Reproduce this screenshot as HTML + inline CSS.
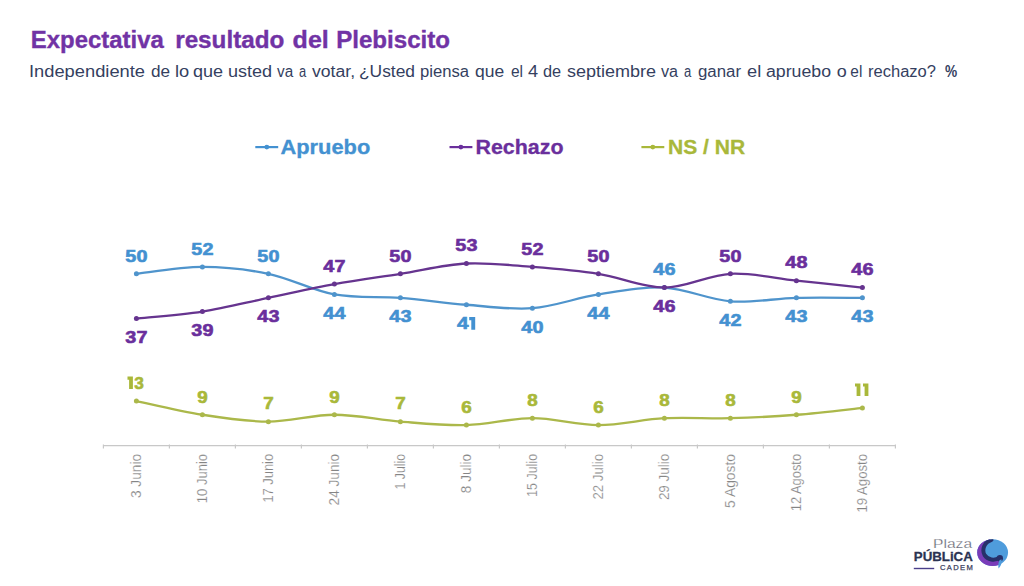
<!DOCTYPE html>
<html><head><meta charset="utf-8"><style>html,body{margin:0;padding:0;background:#fff;width:1024px;height:586px;overflow:hidden}</style></head>
<body>
<svg width="1024" height="586" viewBox="0 0 1024 586" style="display:block">
<rect width="1024" height="586" fill="#ffffff"/>
<text x="30.80" y="47.6" font-family='"Liberation Sans", sans-serif' font-weight="700" font-size="23" fill="#7133a5" stroke="#7133a5" stroke-width="0.35" textLength="133.01" lengthAdjust="spacingAndGlyphs">Expectativa</text>
<text x="175.20" y="47.6" font-family='"Liberation Sans", sans-serif' font-weight="700" font-size="23" fill="#7133a5" stroke="#7133a5" stroke-width="0.35" textLength="109.22" lengthAdjust="spacingAndGlyphs">resultado</text>
<text x="292.60" y="47.6" font-family='"Liberation Sans", sans-serif' font-weight="700" font-size="23" fill="#7133a5" stroke="#7133a5" stroke-width="0.35" textLength="36.16" lengthAdjust="spacingAndGlyphs">del</text>
<text x="336.20" y="47.6" font-family='"Liberation Sans", sans-serif' font-weight="700" font-size="23" fill="#7133a5" stroke="#7133a5" stroke-width="0.35" textLength="113.81" lengthAdjust="spacingAndGlyphs">Plebiscito</text>
<text x="29.00" y="76.9" font-family='"Liberation Sans", sans-serif' font-size="16" fill="#353f5f" textLength="116.04" lengthAdjust="spacingAndGlyphs">Independiente</text>
<text x="151.00" y="76.9" font-family='"Liberation Sans", sans-serif' font-size="16" fill="#353f5f" textLength="19.10" lengthAdjust="spacingAndGlyphs">de</text>
<text x="175.00" y="76.9" font-family='"Liberation Sans", sans-serif' font-size="16" fill="#353f5f" textLength="14.21" lengthAdjust="spacingAndGlyphs">lo</text>
<text x="193.00" y="76.9" font-family='"Liberation Sans", sans-serif' font-size="16" fill="#353f5f" textLength="30.07" lengthAdjust="spacingAndGlyphs">que</text>
<text x="228.00" y="76.9" font-family='"Liberation Sans", sans-serif' font-size="16" fill="#353f5f" textLength="44.13" lengthAdjust="spacingAndGlyphs">usted</text>
<text x="277.00" y="76.9" font-family='"Liberation Sans", sans-serif' font-size="16" fill="#353f5f" textLength="16.17" lengthAdjust="spacingAndGlyphs">va</text>
<text x="299.00" y="76.9" font-family='"Liberation Sans", sans-serif' font-size="16" fill="#353f5f" textLength="7.19" lengthAdjust="spacingAndGlyphs">a</text>
<text x="312.00" y="76.9" font-family='"Liberation Sans", sans-serif' font-size="16" fill="#353f5f" textLength="43.05" lengthAdjust="spacingAndGlyphs">votar,</text>
<text x="359.00" y="76.9" font-family='"Liberation Sans", sans-serif' font-size="16" fill="#353f5f" textLength="56.04" lengthAdjust="spacingAndGlyphs">¿Usted</text>
<text x="420.00" y="76.9" font-family='"Liberation Sans", sans-serif' font-size="16" fill="#353f5f" textLength="49.06" lengthAdjust="spacingAndGlyphs">piensa</text>
<text x="475.00" y="76.9" font-family='"Liberation Sans", sans-serif' font-size="16" fill="#353f5f" textLength="29.19" lengthAdjust="spacingAndGlyphs">que</text>
<text x="511.00" y="76.9" font-family='"Liberation Sans", sans-serif' font-size="16" fill="#353f5f" textLength="12.07" lengthAdjust="spacingAndGlyphs">el</text>
<text x="528.00" y="76.9" font-family='"Liberation Sans", sans-serif' font-size="16" fill="#353f5f" textLength="10.10" lengthAdjust="spacingAndGlyphs">4</text>
<text x="543.00" y="76.9" font-family='"Liberation Sans", sans-serif' font-size="16" fill="#353f5f" textLength="18.14" lengthAdjust="spacingAndGlyphs">de</text>
<text x="567.00" y="76.9" font-family='"Liberation Sans", sans-serif' font-size="16" fill="#353f5f" textLength="89.03" lengthAdjust="spacingAndGlyphs">septiembre</text>
<text x="661.00" y="76.9" font-family='"Liberation Sans", sans-serif' font-size="16" fill="#353f5f" textLength="17.07" lengthAdjust="spacingAndGlyphs">va</text>
<text x="684.00" y="76.9" font-family='"Liberation Sans", sans-serif' font-size="16" fill="#353f5f" textLength="7.28" lengthAdjust="spacingAndGlyphs">a</text>
<text x="698.00" y="76.9" font-family='"Liberation Sans", sans-serif' font-size="16" fill="#353f5f" textLength="43.02" lengthAdjust="spacingAndGlyphs">ganar</text>
<text x="747.00" y="76.9" font-family='"Liberation Sans", sans-serif' font-size="16" fill="#353f5f" textLength="14.18" lengthAdjust="spacingAndGlyphs">el</text>
<text x="766.00" y="76.9" font-family='"Liberation Sans", sans-serif' font-size="16" fill="#353f5f" textLength="65.01" lengthAdjust="spacingAndGlyphs">apruebo</text>
<text x="836.80" y="76.9" font-family='"Liberation Sans", sans-serif' font-size="16" fill="#353f5f" textLength="9.99" lengthAdjust="spacingAndGlyphs">o</text>
<text x="850.30" y="76.9" font-family='"Liberation Sans", sans-serif' font-size="16" fill="#353f5f" textLength="12.01" lengthAdjust="spacingAndGlyphs">el</text>
<text x="868.00" y="76.9" font-family='"Liberation Sans", sans-serif' font-size="16" fill="#353f5f" textLength="68.02" lengthAdjust="spacingAndGlyphs">rechazo?</text>
<text x="945.00" y="76.9" font-family='"Liberation Sans", sans-serif' font-weight="700" font-size="16" fill="#353f5f" textLength="12.18" lengthAdjust="spacingAndGlyphs">%</text>
<line x1="255.3" y1="147.1" x2="278.2" y2="147.1" stroke="#4391d1" stroke-width="2.2"/>
<circle cx="266.8" cy="147.1" r="2.4" fill="#4391d1"/>
<text x="280.5" y="153.5" font-family='"Liberation Sans", sans-serif' font-weight="700" font-size="20.3" fill="#4391d1" stroke="#4391d1" stroke-width="0.3" textLength="89.8" lengthAdjust="spacingAndGlyphs">Apruebo</text>
<line x1="449.5" y1="147.1" x2="472.4" y2="147.1" stroke="#6a2f9c" stroke-width="2.2"/>
<circle cx="460.9" cy="147.1" r="2.4" fill="#6a2f9c"/>
<text x="475.5" y="153.5" font-family='"Liberation Sans", sans-serif' font-weight="700" font-size="20.3" fill="#6a2f9c" stroke="#6a2f9c" stroke-width="0.3" textLength="88.0" lengthAdjust="spacingAndGlyphs">Rechazo</text>
<line x1="641.4" y1="147.1" x2="664.3" y2="147.1" stroke="#a9b83a" stroke-width="2.2"/>
<circle cx="652.8" cy="147.1" r="2.4" fill="#a9b83a"/>
<text x="668.0" y="153.5" font-family='"Liberation Sans", sans-serif' font-weight="700" font-size="20.3" fill="#a9b83a" stroke="#a9b83a" stroke-width="0.3" textLength="77.2" lengthAdjust="spacingAndGlyphs">NS / NR</text>
<line x1="103.4" y1="445.6" x2="895.5" y2="445.6" stroke="#c8c8c8" stroke-width="1.2"/>
<line x1="103.4" y1="444.6" x2="103.4" y2="448.4" stroke="#c8c8c8" stroke-width="1.2"/>
<line x1="169.4" y1="444.6" x2="169.4" y2="448.4" stroke="#c8c8c8" stroke-width="1.2"/>
<line x1="235.4" y1="444.6" x2="235.4" y2="448.4" stroke="#c8c8c8" stroke-width="1.2"/>
<line x1="301.4" y1="444.6" x2="301.4" y2="448.4" stroke="#c8c8c8" stroke-width="1.2"/>
<line x1="367.4" y1="444.6" x2="367.4" y2="448.4" stroke="#c8c8c8" stroke-width="1.2"/>
<line x1="433.4" y1="444.6" x2="433.4" y2="448.4" stroke="#c8c8c8" stroke-width="1.2"/>
<line x1="499.4" y1="444.6" x2="499.4" y2="448.4" stroke="#c8c8c8" stroke-width="1.2"/>
<line x1="565.4" y1="444.6" x2="565.4" y2="448.4" stroke="#c8c8c8" stroke-width="1.2"/>
<line x1="631.4" y1="444.6" x2="631.4" y2="448.4" stroke="#c8c8c8" stroke-width="1.2"/>
<line x1="697.4" y1="444.6" x2="697.4" y2="448.4" stroke="#c8c8c8" stroke-width="1.2"/>
<line x1="763.4" y1="444.6" x2="763.4" y2="448.4" stroke="#c8c8c8" stroke-width="1.2"/>
<line x1="829.4" y1="444.6" x2="829.4" y2="448.4" stroke="#c8c8c8" stroke-width="1.2"/>
<line x1="895.4" y1="444.6" x2="895.4" y2="448.4" stroke="#c8c8c8" stroke-width="1.2"/>
<text transform="translate(141.4,453.9) rotate(-90)" text-anchor="end" font-family='"Liberation Sans", sans-serif' font-size="14" fill="#858585" stroke="#ffffff" stroke-width="0.2" textLength="44.2" lengthAdjust="spacingAndGlyphs">3 Junio</text>
<text transform="translate(207.4,453.9) rotate(-90)" text-anchor="end" font-family='"Liberation Sans", sans-serif' font-size="14" fill="#858585" stroke="#ffffff" stroke-width="0.2" textLength="49.3" lengthAdjust="spacingAndGlyphs">10 Junio</text>
<text transform="translate(273.4,453.9) rotate(-90)" text-anchor="end" font-family='"Liberation Sans", sans-serif' font-size="14" fill="#858585" stroke="#ffffff" stroke-width="0.2" textLength="48.7" lengthAdjust="spacingAndGlyphs">17 Junio</text>
<text transform="translate(339.4,453.9) rotate(-90)" text-anchor="end" font-family='"Liberation Sans", sans-serif' font-size="14" fill="#858585" stroke="#ffffff" stroke-width="0.2" textLength="51.5" lengthAdjust="spacingAndGlyphs">24 Junio</text>
<text transform="translate(405.4,453.9) rotate(-90)" text-anchor="end" font-family='"Liberation Sans", sans-serif' font-size="14" fill="#858585" stroke="#ffffff" stroke-width="0.2" textLength="35.6" lengthAdjust="spacingAndGlyphs">1 Julio</text>
<text transform="translate(471.4,453.9) rotate(-90)" text-anchor="end" font-family='"Liberation Sans", sans-serif' font-size="14" fill="#858585" stroke="#ffffff" stroke-width="0.2" textLength="39.3" lengthAdjust="spacingAndGlyphs">8 Julio</text>
<text transform="translate(537.4,453.9) rotate(-90)" text-anchor="end" font-family='"Liberation Sans", sans-serif' font-size="14" fill="#858585" stroke="#ffffff" stroke-width="0.2" textLength="43.1" lengthAdjust="spacingAndGlyphs">15 Julio</text>
<text transform="translate(603.4,453.9) rotate(-90)" text-anchor="end" font-family='"Liberation Sans", sans-serif' font-size="14" fill="#858585" stroke="#ffffff" stroke-width="0.2" textLength="45.7" lengthAdjust="spacingAndGlyphs">22 Julio</text>
<text transform="translate(669.4,453.9) rotate(-90)" text-anchor="end" font-family='"Liberation Sans", sans-serif' font-size="14" fill="#858585" stroke="#ffffff" stroke-width="0.2" textLength="46.2" lengthAdjust="spacingAndGlyphs">29 Julio</text>
<text transform="translate(735.4,453.9) rotate(-90)" text-anchor="end" font-family='"Liberation Sans", sans-serif' font-size="14" fill="#858585" stroke="#ffffff" stroke-width="0.2" textLength="54.0" lengthAdjust="spacingAndGlyphs">5 Agosto</text>
<text transform="translate(801.4,453.9) rotate(-90)" text-anchor="end" font-family='"Liberation Sans", sans-serif' font-size="14" fill="#858585" stroke="#ffffff" stroke-width="0.2" textLength="57.3" lengthAdjust="spacingAndGlyphs">12 Agosto</text>
<text transform="translate(867.4,453.9) rotate(-90)" text-anchor="end" font-family='"Liberation Sans", sans-serif' font-size="14" fill="#858585" stroke="#ffffff" stroke-width="0.2" textLength="58.7" lengthAdjust="spacingAndGlyphs">19 Agosto</text>
<path d="M136.40,273.80 C147.40,272.65 180.40,266.92 202.40,266.92 C224.40,266.92 246.40,269.22 268.40,273.80 C290.40,278.38 312.40,290.42 334.40,294.43 C356.40,298.44 378.40,296.15 400.40,297.87 C422.40,299.58 444.40,303.02 466.40,304.74 C488.40,306.46 510.40,309.90 532.40,308.18 C554.40,306.46 576.40,297.87 598.40,294.43 C620.40,290.99 642.40,286.41 664.40,287.55 C686.40,288.70 708.40,299.58 730.40,301.30 C752.40,303.02 774.40,298.44 796.40,297.87 C818.40,297.29 851.40,297.87 862.40,297.87" fill="none" stroke="#4f94cc" stroke-width="2.3" stroke-linecap="round"/>
<circle cx="136.40" cy="273.80" r="2.5" fill="#4f94cc"/>
<circle cx="202.40" cy="266.92" r="2.5" fill="#4f94cc"/>
<circle cx="268.40" cy="273.80" r="2.5" fill="#4f94cc"/>
<circle cx="334.40" cy="294.43" r="2.5" fill="#4f94cc"/>
<circle cx="400.40" cy="297.87" r="2.5" fill="#4f94cc"/>
<circle cx="466.40" cy="304.74" r="2.5" fill="#4f94cc"/>
<circle cx="532.40" cy="308.18" r="2.5" fill="#4f94cc"/>
<circle cx="598.40" cy="294.43" r="2.5" fill="#4f94cc"/>
<circle cx="664.40" cy="287.55" r="2.5" fill="#4f94cc"/>
<circle cx="730.40" cy="301.30" r="2.5" fill="#4f94cc"/>
<circle cx="796.40" cy="297.87" r="2.5" fill="#4f94cc"/>
<circle cx="862.40" cy="297.87" r="2.5" fill="#4f94cc"/>
<text x="136.40" y="261.60" text-anchor="middle" font-family='"Liberation Sans", sans-serif' font-weight="700" font-size="17.1" fill="#4391d1" stroke="#4391d1" stroke-width="0.6" textLength="22.02" lengthAdjust="spacingAndGlyphs">50</text>
<text x="202.40" y="254.72" text-anchor="middle" font-family='"Liberation Sans", sans-serif' font-weight="700" font-size="17.1" fill="#4391d1" stroke="#4391d1" stroke-width="0.6" textLength="22.02" lengthAdjust="spacingAndGlyphs">52</text>
<text x="268.40" y="261.60" text-anchor="middle" font-family='"Liberation Sans", sans-serif' font-weight="700" font-size="17.1" fill="#4391d1" stroke="#4391d1" stroke-width="0.6" textLength="22.02" lengthAdjust="spacingAndGlyphs">50</text>
<text x="334.40" y="319.03" text-anchor="middle" font-family='"Liberation Sans", sans-serif' font-weight="700" font-size="17.1" fill="#4391d1" stroke="#4391d1" stroke-width="0.6" textLength="22.02" lengthAdjust="spacingAndGlyphs">44</text>
<text x="400.40" y="322.47" text-anchor="middle" font-family='"Liberation Sans", sans-serif' font-weight="700" font-size="17.1" fill="#4391d1" stroke="#4391d1" stroke-width="0.6" textLength="22.02" lengthAdjust="spacingAndGlyphs">43</text>
<text x="462.80" y="329.34" text-anchor="middle" font-family='"Liberation Sans", sans-serif' font-weight="700" font-size="17.1" fill="#4391d1" stroke="#4391d1" stroke-width="0.6" textLength="11.6" lengthAdjust="spacingAndGlyphs">4</text>
<path d="M469.20,317.04 h6 v12.6 h-3.9 v-9.4 h-2.1 z" fill="#4391d1"/>
<text x="532.40" y="332.78" text-anchor="middle" font-family='"Liberation Sans", sans-serif' font-weight="700" font-size="17.1" fill="#4391d1" stroke="#4391d1" stroke-width="0.6" textLength="22.02" lengthAdjust="spacingAndGlyphs">40</text>
<text x="598.40" y="319.03" text-anchor="middle" font-family='"Liberation Sans", sans-serif' font-weight="700" font-size="17.1" fill="#4391d1" stroke="#4391d1" stroke-width="0.6" textLength="22.02" lengthAdjust="spacingAndGlyphs">44</text>
<text x="664.40" y="275.35" text-anchor="middle" font-family='"Liberation Sans", sans-serif' font-weight="700" font-size="17.1" fill="#4391d1" stroke="#4391d1" stroke-width="0.6" textLength="22.02" lengthAdjust="spacingAndGlyphs">46</text>
<text x="730.40" y="325.90" text-anchor="middle" font-family='"Liberation Sans", sans-serif' font-weight="700" font-size="17.1" fill="#4391d1" stroke="#4391d1" stroke-width="0.6" textLength="22.02" lengthAdjust="spacingAndGlyphs">42</text>
<text x="796.40" y="322.47" text-anchor="middle" font-family='"Liberation Sans", sans-serif' font-weight="700" font-size="17.1" fill="#4391d1" stroke="#4391d1" stroke-width="0.6" textLength="22.02" lengthAdjust="spacingAndGlyphs">43</text>
<text x="862.40" y="322.47" text-anchor="middle" font-family='"Liberation Sans", sans-serif' font-weight="700" font-size="17.1" fill="#4391d1" stroke="#4391d1" stroke-width="0.6" textLength="22.02" lengthAdjust="spacingAndGlyphs">43</text>
<path d="M136.40,318.49 C147.40,317.35 180.40,315.06 202.40,311.62 C224.40,308.18 246.40,302.45 268.40,297.87 C290.40,293.28 312.40,288.12 334.40,284.11 C356.40,280.10 378.40,277.24 400.40,273.80 C422.40,270.36 444.40,264.63 466.40,263.49 C488.40,262.34 510.40,265.20 532.40,266.92 C554.40,268.64 576.40,270.36 598.40,273.80 C620.40,277.24 642.40,287.55 664.40,287.55 C686.40,287.55 708.40,274.95 730.40,273.80 C752.40,272.65 774.40,278.38 796.40,280.68 C818.40,282.97 851.40,286.41 862.40,287.55" fill="none" stroke="#66348f" stroke-width="2.3" stroke-linecap="round"/>
<circle cx="136.40" cy="318.49" r="2.5" fill="#66348f"/>
<circle cx="202.40" cy="311.62" r="2.5" fill="#66348f"/>
<circle cx="268.40" cy="297.87" r="2.5" fill="#66348f"/>
<circle cx="334.40" cy="284.11" r="2.5" fill="#66348f"/>
<circle cx="400.40" cy="273.80" r="2.5" fill="#66348f"/>
<circle cx="466.40" cy="263.49" r="2.5" fill="#66348f"/>
<circle cx="532.40" cy="266.92" r="2.5" fill="#66348f"/>
<circle cx="598.40" cy="273.80" r="2.5" fill="#66348f"/>
<circle cx="664.40" cy="287.55" r="2.5" fill="#66348f"/>
<circle cx="730.40" cy="273.80" r="2.5" fill="#66348f"/>
<circle cx="796.40" cy="280.68" r="2.5" fill="#66348f"/>
<circle cx="862.40" cy="287.55" r="2.5" fill="#66348f"/>
<text x="136.40" y="343.09" text-anchor="middle" font-family='"Liberation Sans", sans-serif' font-weight="700" font-size="17.1" fill="#6a2f9c" stroke="#6a2f9c" stroke-width="0.6" textLength="22.02" lengthAdjust="spacingAndGlyphs">37</text>
<text x="202.40" y="336.22" text-anchor="middle" font-family='"Liberation Sans", sans-serif' font-weight="700" font-size="17.1" fill="#6a2f9c" stroke="#6a2f9c" stroke-width="0.6" textLength="22.02" lengthAdjust="spacingAndGlyphs">39</text>
<text x="268.40" y="322.47" text-anchor="middle" font-family='"Liberation Sans", sans-serif' font-weight="700" font-size="17.1" fill="#6a2f9c" stroke="#6a2f9c" stroke-width="0.6" textLength="22.02" lengthAdjust="spacingAndGlyphs">43</text>
<text x="334.40" y="271.91" text-anchor="middle" font-family='"Liberation Sans", sans-serif' font-weight="700" font-size="17.1" fill="#6a2f9c" stroke="#6a2f9c" stroke-width="0.6" textLength="22.02" lengthAdjust="spacingAndGlyphs">47</text>
<text x="400.40" y="261.60" text-anchor="middle" font-family='"Liberation Sans", sans-serif' font-weight="700" font-size="17.1" fill="#6a2f9c" stroke="#6a2f9c" stroke-width="0.6" textLength="22.02" lengthAdjust="spacingAndGlyphs">50</text>
<text x="466.40" y="251.29" text-anchor="middle" font-family='"Liberation Sans", sans-serif' font-weight="700" font-size="17.1" fill="#6a2f9c" stroke="#6a2f9c" stroke-width="0.6" textLength="22.02" lengthAdjust="spacingAndGlyphs">53</text>
<text x="532.40" y="254.72" text-anchor="middle" font-family='"Liberation Sans", sans-serif' font-weight="700" font-size="17.1" fill="#6a2f9c" stroke="#6a2f9c" stroke-width="0.6" textLength="22.02" lengthAdjust="spacingAndGlyphs">52</text>
<text x="598.40" y="261.60" text-anchor="middle" font-family='"Liberation Sans", sans-serif' font-weight="700" font-size="17.1" fill="#6a2f9c" stroke="#6a2f9c" stroke-width="0.6" textLength="22.02" lengthAdjust="spacingAndGlyphs">50</text>
<text x="664.40" y="312.15" text-anchor="middle" font-family='"Liberation Sans", sans-serif' font-weight="700" font-size="17.1" fill="#6a2f9c" stroke="#6a2f9c" stroke-width="0.6" textLength="22.02" lengthAdjust="spacingAndGlyphs">46</text>
<text x="730.40" y="261.60" text-anchor="middle" font-family='"Liberation Sans", sans-serif' font-weight="700" font-size="17.1" fill="#6a2f9c" stroke="#6a2f9c" stroke-width="0.6" textLength="22.02" lengthAdjust="spacingAndGlyphs">50</text>
<text x="796.40" y="268.48" text-anchor="middle" font-family='"Liberation Sans", sans-serif' font-weight="700" font-size="17.1" fill="#6a2f9c" stroke="#6a2f9c" stroke-width="0.6" textLength="22.02" lengthAdjust="spacingAndGlyphs">48</text>
<text x="862.40" y="275.35" text-anchor="middle" font-family='"Liberation Sans", sans-serif' font-weight="700" font-size="17.1" fill="#6a2f9c" stroke="#6a2f9c" stroke-width="0.6" textLength="22.02" lengthAdjust="spacingAndGlyphs">46</text>
<path d="M136.40,401.01 C147.40,403.30 180.40,411.32 202.40,414.76 C224.40,418.20 246.40,421.63 268.40,421.63 C290.40,421.63 312.40,414.76 334.40,414.76 C356.40,414.76 378.40,419.92 400.40,421.63 C422.40,423.35 444.40,425.64 466.40,425.07 C488.40,424.50 510.40,418.20 532.40,418.20 C554.40,418.20 576.40,425.07 598.40,425.07 C620.40,425.07 642.40,419.34 664.40,418.20 C686.40,417.05 708.40,418.77 730.40,418.20 C752.40,417.62 774.40,416.48 796.40,414.76 C818.40,413.04 851.40,409.03 862.40,407.88" fill="none" stroke="#abb84a" stroke-width="2.3" stroke-linecap="round"/>
<circle cx="136.40" cy="401.01" r="2.5" fill="#abb84a"/>
<circle cx="202.40" cy="414.76" r="2.5" fill="#abb84a"/>
<circle cx="268.40" cy="421.63" r="2.5" fill="#abb84a"/>
<circle cx="334.40" cy="414.76" r="2.5" fill="#abb84a"/>
<circle cx="400.40" cy="421.63" r="2.5" fill="#abb84a"/>
<circle cx="466.40" cy="425.07" r="2.5" fill="#abb84a"/>
<circle cx="532.40" cy="418.20" r="2.5" fill="#abb84a"/>
<circle cx="598.40" cy="425.07" r="2.5" fill="#abb84a"/>
<circle cx="664.40" cy="418.20" r="2.5" fill="#abb84a"/>
<circle cx="730.40" cy="418.20" r="2.5" fill="#abb84a"/>
<circle cx="796.40" cy="414.76" r="2.5" fill="#abb84a"/>
<circle cx="862.40" cy="407.88" r="2.5" fill="#abb84a"/>
<path d="M127.50,376.51 h5.4 v12.6 h-3.8 v-9.4 h-1.6 z" fill="#a9b83a"/>
<text x="139.00" y="388.81" text-anchor="middle" font-family='"Liberation Sans", sans-serif' font-weight="700" font-size="17.1" fill="#a9b83a" stroke="#a9b83a" stroke-width="0.6" textLength="9.6" lengthAdjust="spacingAndGlyphs">3</text>
<text x="202.40" y="402.56" text-anchor="middle" font-family='"Liberation Sans", sans-serif' font-weight="700" font-size="17.1" fill="#a9b83a" stroke="#a9b83a" stroke-width="0.6" textLength="10.48" lengthAdjust="spacingAndGlyphs">9</text>
<text x="268.40" y="409.43" text-anchor="middle" font-family='"Liberation Sans", sans-serif' font-weight="700" font-size="17.1" fill="#a9b83a" stroke="#a9b83a" stroke-width="0.6" textLength="10.48" lengthAdjust="spacingAndGlyphs">7</text>
<text x="334.40" y="402.56" text-anchor="middle" font-family='"Liberation Sans", sans-serif' font-weight="700" font-size="17.1" fill="#a9b83a" stroke="#a9b83a" stroke-width="0.6" textLength="10.48" lengthAdjust="spacingAndGlyphs">9</text>
<text x="400.40" y="409.43" text-anchor="middle" font-family='"Liberation Sans", sans-serif' font-weight="700" font-size="17.1" fill="#a9b83a" stroke="#a9b83a" stroke-width="0.6" textLength="10.48" lengthAdjust="spacingAndGlyphs">7</text>
<text x="466.40" y="412.87" text-anchor="middle" font-family='"Liberation Sans", sans-serif' font-weight="700" font-size="17.1" fill="#a9b83a" stroke="#a9b83a" stroke-width="0.6" textLength="10.48" lengthAdjust="spacingAndGlyphs">6</text>
<text x="532.40" y="406.00" text-anchor="middle" font-family='"Liberation Sans", sans-serif' font-weight="700" font-size="17.1" fill="#a9b83a" stroke="#a9b83a" stroke-width="0.6" textLength="10.48" lengthAdjust="spacingAndGlyphs">8</text>
<text x="598.40" y="412.87" text-anchor="middle" font-family='"Liberation Sans", sans-serif' font-weight="700" font-size="17.1" fill="#a9b83a" stroke="#a9b83a" stroke-width="0.6" textLength="10.48" lengthAdjust="spacingAndGlyphs">6</text>
<text x="664.40" y="406.00" text-anchor="middle" font-family='"Liberation Sans", sans-serif' font-weight="700" font-size="17.1" fill="#a9b83a" stroke="#a9b83a" stroke-width="0.6" textLength="10.48" lengthAdjust="spacingAndGlyphs">8</text>
<text x="730.40" y="406.00" text-anchor="middle" font-family='"Liberation Sans", sans-serif' font-weight="700" font-size="17.1" fill="#a9b83a" stroke="#a9b83a" stroke-width="0.6" textLength="10.48" lengthAdjust="spacingAndGlyphs">8</text>
<text x="796.40" y="402.56" text-anchor="middle" font-family='"Liberation Sans", sans-serif' font-weight="700" font-size="17.1" fill="#a9b83a" stroke="#a9b83a" stroke-width="0.6" textLength="10.48" lengthAdjust="spacingAndGlyphs">9</text>
<path d="M855.00,383.38 h5.4 v12.6 h-3.8 v-9.4 h-1.6 z" fill="#a9b83a"/>
<path d="M863.00,383.38 h5.4 v12.6 h-3.8 v-9.4 h-1.6 z" fill="#a9b83a"/>
<g>
<text x="933.1" y="548.3" font-family='"Liberation Sans", sans-serif' font-size="12.5" fill="#5a5b6a" stroke="#ffffff" stroke-width="0.25" textLength="39" lengthAdjust="spacingAndGlyphs">Plaza</text>
<text x="913.8" y="561.2" font-family='"Liberation Sans", sans-serif' font-weight="700" font-size="13.4" fill="#2b3352" stroke="#2b3352" stroke-width="0.3" textLength="59" lengthAdjust="spacingAndGlyphs">PÚBLiCA</text>
<text x="939.9" y="569.5" font-family='"Liberation Sans", sans-serif' font-size="7.6" fill="#3a4060" stroke="#3a4060" stroke-width="0.25" textLength="33" lengthAdjust="spacing">CADEM</text>
<line x1="913.8" y1="568.5" x2="934.2" y2="568.5" stroke="#4a3f8a" stroke-width="1.4"/>
<g transform="translate(972,534) scale(0.06826)">
<defs><clipPath id="lc"><ellipse cx="302" cy="272" rx="226" ry="196"/></clipPath></defs>
<g clip-path="url(#lc)">
<rect x="0" y="0" width="600" height="600" fill="#4f9cdc"/>
<path d="M265,90 C170,130 140,230 185,310 C230,380 330,395 400,350 L420,420 L370,600 L0,600 L0,0 L265,0 Z" fill="#7a3cb8"/>
<path d="M285,85 C180,120 140,230 185,310 C230,380 330,395 400,350" fill="none" stroke="#27306a" stroke-width="58" stroke-linecap="round"/>
<ellipse cx="408" cy="355" rx="46" ry="48" fill="#27306a"/>
</g>
<path d="M430,370 C445,420 420,470 390,505 C380,470 385,430 400,390 Z" fill="#4f9cdc"/>
</g>
</g>
</svg>
</body></html>
